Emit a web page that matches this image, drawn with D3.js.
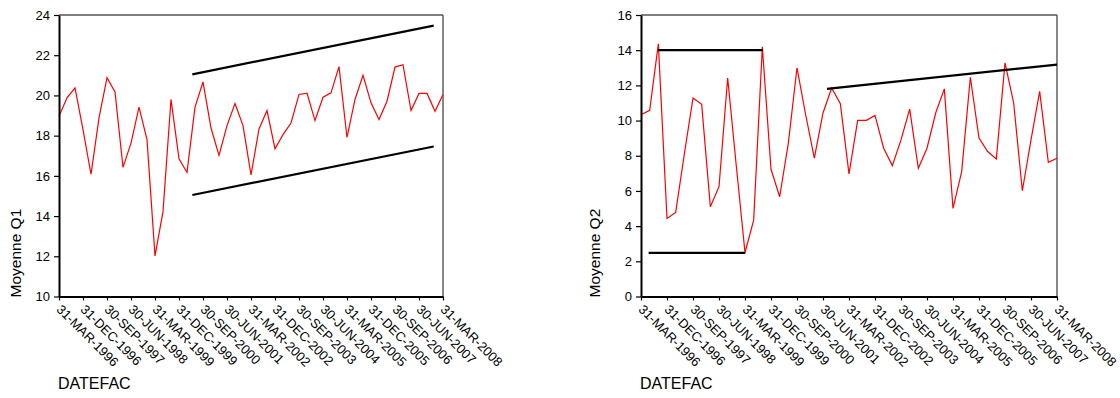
<!DOCTYPE html>
<html>
<head>
<meta charset="utf-8">
<script src="https://cdn.jsdelivr.net/npm/d3@7"></script>
<style>
  body { margin: 0; background: #fff; }
  svg { display: block; font-family: "Liberation Sans", Arial, sans-serif; }
  .tick text { fill: #000; }
</style>
</head>
<body>
<svg id="chart" width="1120" height="398"></svg>
<script>
// tick labels, one every third quarter
const tickLabels = [
  "31-MAR-1996", "31-DEC-1996", "30-SEP-1997", "30-JUN-1998", "31-MAR-1999",
  "31-DEC-1999", "30-SEP-2000", "30-JUN-2001", "31-MAR-2002", "31-DEC-2002",
  "30-SEP-2003", "30-JUN-2004", "31-MAR-2005", "31-DEC-2005", "30-SEP-2006",
  "30-JUN-2007", "31-MAR-2008"
];

// quarterly means, 31-MAR-1996 .. 31-MAR-2008 (49 quarters)
const q1Values = [
  18.97, 19.88, 20.38, 18.3, 16.08, 18.88, 20.88, 20.17, 16.42, 17.63,
  19.42, 17.8, 12.02, 14.22, 19.8, 16.85, 16.17, 19.42, 20.67, 18.38,
  17.02, 18.5, 19.6, 18.5, 16.05, 18.33, 19.25, 17.35, 18.05, 18.63,
  20.05, 20.11, 18.75, 19.91, 20.13, 21.43, 17.91, 19.8, 21.0, 19.63,
  18.8, 19.71, 21.41, 21.53, 19.25, 20.1, 20.1, 19.21, 20.05
];

const q2Values = [
  10.33, 10.58, 14.36, 4.44, 4.78, 8.1, 11.28, 10.92, 5.1, 6.24,
  12.42, 7.4, 2.5, 4.34, 14.19, 7.23, 5.67, 8.72, 13.0, 10.33,
  7.86, 10.43, 11.85, 10.96, 6.97, 10.01, 10.01, 10.29, 8.43, 7.44,
  8.9, 10.65, 7.29, 8.43, 10.43, 11.8, 5.01, 7.1, 12.46, 9.0,
  8.24, 7.82, 13.28, 11.0, 6.01, 8.9, 11.66, 7.63, 7.86
];

// hand-drawn trend lines: [quarter index, value] pairs
const q1Guides = [
  [[16.67, 21.05], [46.84, 23.47]],
  [[16.67, 15.05], [46.84, 17.46]]
];
const q2Guides = [
  [[1.93, 14.0], [14.04, 14.0]],
  [[0.88, 2.48], [12.04, 2.48]],
  [[21.46, 11.8], [48, 13.18]]
];

const q1Ticks = [10, 12, 14, 16, 18, 20, 22, 24];
const q2Ticks = [0, 2, 4, 6, 8, 10, 12, 14, 16];

const svg = d3.select("#chart");

function drawPanel(opt) {
  const g = svg.append("g");
  const x = d3.scaleLinear().domain([0, opt.values.length - 1]).range([opt.left, opt.right]);
  const y = d3.scaleLinear().domain(opt.yDomain).range([opt.bottom, opt.top]);

  // frame: top and right edges
  g.append("line")
    .attr("x1", opt.left).attr("x2", opt.right)
    .attr("y1", opt.top).attr("y2", opt.top)
    .attr("stroke", "#000").attr("stroke-width", 1);
  g.append("line")
    .attr("x1", opt.right).attr("x2", opt.right)
    .attr("y1", opt.top).attr("y2", opt.bottom)
    .attr("stroke", "#555").attr("stroke-width", 1.4);

  // data line
  const line = d3.line().x((d, i) => x(i)).y(d => y(d));
  g.append("path")
    .datum(opt.values)
    .attr("d", line)
    .attr("fill", "none")
    .attr("stroke", "#ff0000")
    .attr("stroke-width", 1.2)
    .attr("stroke-linejoin", "miter");

  // trend lines
  g.selectAll(".guide")
    .data(opt.guides)
    .join("line")
    .attr("class", "guide")
    .attr("x1", d => x(d[0][0])).attr("y1", d => y(d[0][1]))
    .attr("x2", d => x(d[1][0])).attr("y2", d => y(d[1][1]))
    .attr("stroke", "#000")
    .attr("stroke-width", 2.2);

  // y axis
  const ya = g.append("g")
    .attr("transform", `translate(${opt.left},0)`)
    .call(d3.axisLeft(y).tickValues(opt.yTicks).tickSize(5).tickSizeOuter(0).tickPadding(4));
  ya.select(".domain").attr("stroke-width", 2).attr("stroke", "#000");
  ya.selectAll(".tick line").attr("stroke-width", 1.2);
  ya.selectAll(".tick text").attr("font-size", 13).attr("font-family", "Liberation Sans, Arial, sans-serif");

  // x axis
  const xa = g.append("g")
    .attr("transform", `translate(0,${opt.bottom})`)
    .call(d3.axisBottom(x)
      .tickValues(d3.range(0, opt.values.length, 3))
      .tickFormat(d => tickLabels[d / 3])
      .tickSize(4).tickSizeOuter(0));
  xa.select(".domain").attr("stroke-width", 2).attr("stroke", "#000");
  xa.selectAll(".tick line").attr("stroke-width", 1.2);
  xa.selectAll(".tick text")
    .attr("font-size", 13)
    .attr("font-family", "Liberation Sans, Arial, sans-serif")
    .attr("text-anchor", "start")
    .attr("x", 0).attr("y", 0).attr("dy", "0.72em")
    .attr("transform", "translate(3,7) rotate(45)");

  // titles
  g.append("text")
    .attr("transform", `translate(${opt.yTitleX},${opt.bottom + 1}) rotate(-90)`)
    .attr("text-anchor", "start")
    .attr("dy", "0.35em")
    .attr("font-size", 15.5)
    .text(opt.yTitle);
  g.append("text")
    .attr("x", opt.left - 1)
    .attr("y", 389)
    .attr("font-size", 16)
    .text("DATEFAC");
}

drawPanel({
  left: 59, right: 443, top: 15, bottom: 296.5,
  values: q1Values, guides: q1Guides,
  yDomain: [10, 24], yTicks: q1Ticks,
  yTitle: "Moyenne Q1", yTitleX: 16
});

drawPanel({
  left: 641, right: 1057, top: 15, bottom: 296.5,
  values: q2Values, guides: q2Guides,
  yDomain: [0, 16], yTicks: q2Ticks,
  yTitle: "Moyenne Q2", yTitleX: 595
});
</script>
</body>
</html>
